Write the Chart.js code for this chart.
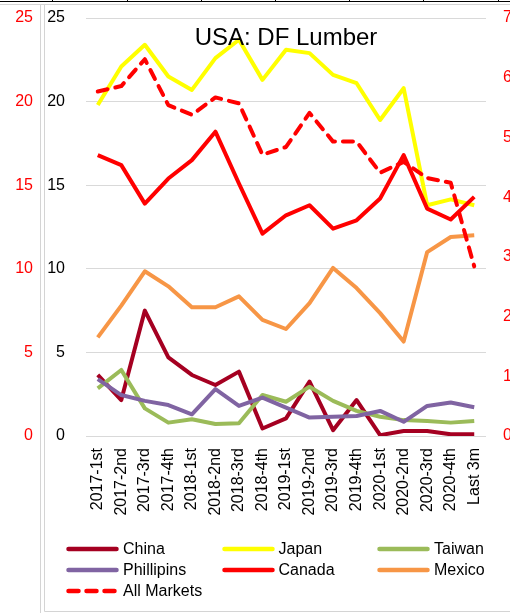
<!DOCTYPE html>
<html>
<head>
<meta charset="utf-8">
<script src="https://cdn.jsdelivr.net/npm/chart.js@4.4.1/dist/chart.umd.min.js"></script>
<style>
  html, body { margin: 0; padding: 0; background: #fff; }
  #wrap { position: relative; width: 510px; height: 613px; overflow: hidden; }
  #chart { position: absolute; left: 0; top: 0; }
  #legend {
    position: absolute; left: 66px; top: 538px;
    display: grid; grid-template-columns: 155.5px 155.5px 155.5px; grid-auto-rows: 21px;
    font: 16px "Liberation Sans", Arial, sans-serif; color: #000;
  }
  .item { display: flex; align-items: center; white-space: nowrap; }
  .item svg { margin-right: 4px; flex: none; }
</style>
</head>
<body>
<div id="wrap">
  <canvas id="chart" width="510" height="613"></canvas>
  <div id="legend"></div>
</div>
<script>
// categories (x axis)
const categories = ['2017-1st', '2017-2nd', '2017-3rd', '2017-4th', '2018-1st', '2018-2nd',
  '2018-3rd', '2018-4th', '2019-1st', '2019-2nd', '2019-3rd', '2019-4th',
  '2020-1st', '2020-2nd', '2020-3rd', '2020-4th', 'Last 3m'];

// left axis series (0-25)
const china      = [3.65, 2.15, 7.5, 4.7, 3.65, 3.05, 3.85, 0.45, 1.05, 3.25, 0.35, 2.15, 0.05, 0.3, 0.3, 0.1, 0.1];
const japan      = [19.8, 22.1, 23.4, 21.5, 20.7, 22.6, 23.7, 21.3, 23.1, 22.9, 21.6, 21.1, 18.9, 20.8, 13.8, 14.15, 13.8];
const taiwan     = [2.85, 3.95, 1.65, 0.8, 1.0, 0.72, 0.76, 2.45, 2.05, 2.95, 2.1, 1.5, 1.15, 0.95, 0.9, 0.8, 0.9];
const phillipins = [3.4, 2.45, 2.1, 1.85, 1.3, 2.8, 1.8, 2.3, 1.7, 1.1, 1.15, 1.2, 1.5, 0.85, 1.8, 2.0, 1.72];
const canada     = [16.8, 16.2, 13.9, 15.4, 16.5, 18.2, 15.1, 12.1, 13.2, 13.8, 12.4, 12.9, 14.2, 16.8, 13.6, 12.95, 14.3];
const mexico     = [5.9, 7.8, 9.85, 8.95, 7.7, 7.7, 8.35, 6.95, 6.4, 7.95, 10.05, 8.85, 7.35, 5.65, 11.0, 11.9, 12.0];

// right axis series (0-7)
const allMarkets = [5.77, 5.86, 6.31, 5.54, 5.38, 5.67, 5.57, 4.71, 4.84, 5.41, 4.93, 4.93, 4.41, 4.59, 4.32, 4.24, 2.84];

const seriesNames  = ['China', 'Japan', 'Taiwan', 'Phillipins', 'Canada', 'Mexico', 'All Markets'];
const seriesData   = [china, japan, taiwan, phillipins, canada, mexico, allMarkets];
const seriesColors = ['#A50021', '#FFFF00', '#9BBB59', '#8064A2', '#FF0000', '#F79646', '#FF0000'];

const FONT = '"Liberation Sans", Arial, sans-serif';

const datasets = seriesNames.map((name, i) => {
  const dashed = name === 'All Markets';
  return {
    label: name,
    data: seriesData[i],
    borderColor: seriesColors[i],
    backgroundColor: seriesColors[i],
    borderWidth: 4,
    borderDash: dashed ? [10, 8] : [],
    borderCapStyle: dashed ? 'round' : 'butt',
    borderJoinStyle: 'round',
    pointRadius: 0,
    fill: false,
    tension: 0,
    yAxisID: dashed ? 'y2' : 'y',
    order: seriesNames.length - i
  };
});

// frame lines of the surrounding sheet
const framePlugin = {
  id: 'frame',
  beforeDraw(chart) {
    const c = chart.ctx;
    c.save();
    c.fillStyle = '#fff';
    c.fillRect(0, 0, chart.width, chart.height);
    c.strokeStyle = '#000';
    c.lineWidth = 1;
    c.beginPath();
    c.moveTo(0, 1.5); c.lineTo(510, 1.5);
    [52, 127, 201, 275, 349, 423, 498].forEach(x => { c.moveTo(x + 0.5, 0); c.lineTo(x + 0.5, 2); });
    c.stroke();
    c.strokeStyle = '#d4d4d4';
    c.beginPath();
    c.moveTo(0, 4.5); c.lineTo(510, 4.5);
    c.moveTo(40.5, 4.5); c.lineTo(40.5, 613);
    c.moveTo(44.5, 4.5); c.lineTo(44.5, 611.5); c.lineTo(510, 611.5);
    c.stroke();
    c.restore();
  }
};

const titlePlugin = {
  id: 'insideTitle',
  afterDatasetsDraw(chart) {
    const a = chart.chartArea;
    const c = chart.ctx;
    c.save();
    c.font = '24px ' + FONT;
    c.fillStyle = '#000';
    c.textAlign = 'center';
    c.textBaseline = 'alphabetic';
    c.fillText('USA: DF Lumber', (a.left + a.right) / 2, a.top + 27);
    c.restore();
  }
};

// fixed width for a vertical axis, no extra label overflow padding
const fitY = w => s => { s.width = w; s.paddingTop = 0; s.paddingBottom = 0; };

const chart = new Chart(document.getElementById('chart'), {
  type: 'line',
  data: { labels: categories, datasets: datasets },
  options: {
    responsive: false,
    animation: false,
    layout: { padding: { top: 18, bottom: 97, left: 0, right: 0 } },
    plugins: { legend: { display: false }, tooltip: { enabled: false }, title: { display: false } },
    scales: {
      x: {
        type: 'category',
        offset: true,
        grid: { display: false, drawTicks: false },
        border: { display: false },
        ticks: { color: '#000', font: { family: FONT, size: 16 }, minRotation: 90, maxRotation: 90, padding: 12, autoSkip: false },
        afterFit: s => { s.height = 80; s.paddingLeft = 0; s.paddingRight = 0; }
      },
      yL: {
        type: 'linear', axis: 'y', position: 'left', weight: 5,
        min: 0, max: 25,
        grid: { display: false, drawTicks: false },
        border: { display: false },
        ticks: { stepSize: 5, color: '#FF0000', font: { family: FONT, size: 16 }, padding: 11 },
        afterFit: fitY(44)
      },
      y: {
        type: 'linear', position: 'left', weight: 0,
        min: 0, max: 25,
        grid: { color: '#d9d9d9', lineWidth: 1, drawTicks: false },
        border: { display: false },
        ticks: { stepSize: 5, color: '#000', font: { family: FONT, size: 16 }, padding: 21 },
        afterFit: fitY(42)
      },
      y2: {
        type: 'linear', position: 'right',
        min: 0, max: 7,
        grid: { display: false, drawTicks: false },
        border: { display: false },
        ticks: { stepSize: 1, color: '#FF0000', font: { family: FONT, size: 16 }, padding: 17 },
        afterFit: fitY(24)
      }
    }
  },
  plugins: [framePlugin, titlePlugin]
});

// legend in three columns, built from the chart's datasets
const legend = document.getElementById('legend');
chart.data.datasets.forEach(ds => {
  const item = document.createElement('div');
  item.className = 'item';
  const dash = ds.borderDash.length ? 'stroke-dasharray="10 8"' : '';
  item.innerHTML =
    '<svg width="53" height="8"><line x1="2.5" y1="4" x2="50.5" y2="4" stroke="' + ds.borderColor +
    '" stroke-width="4.5" stroke-linecap="round" ' + dash + '/></svg><span>' + ds.label + '</span>';
  legend.appendChild(item);
});
</script>
</body>
</html>
